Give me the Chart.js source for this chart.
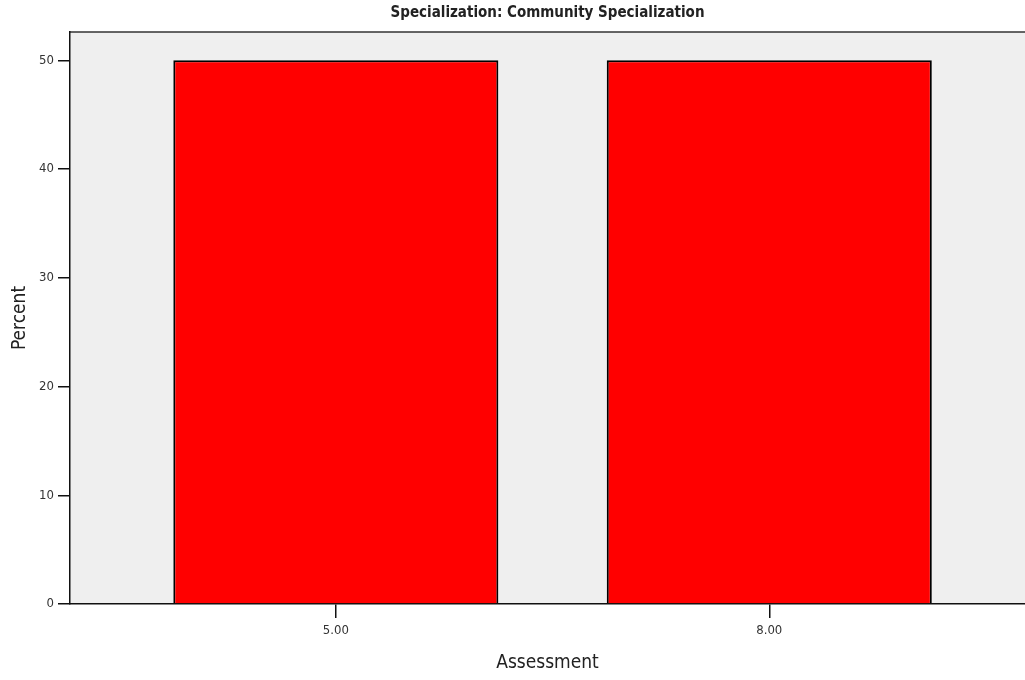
<!DOCTYPE html>
<html>
<head>
<meta charset="utf-8">
<script src="https://cdn.jsdelivr.net/npm/chart.js@4/dist/chart.umd.min.js"></script>
<style>
  body { margin: 0; background: #fff; overflow: hidden; }
  #wrap { width: 1025px; height: 680px; }
</style>
</head>
<body>
<div id="wrap"><canvas id="canvas" width="1025" height="680"></canvas></div>
<script>
const categories = [5, 8];
const tickLabels = ["5.00", "8.00"];
const percent = [50, 50];
const yTicks = [0, 10, 20, 30, 40, 50];

const FONT = "'Liberation Sans Narrow', 'DejaVu Sans Condensed', 'Arial Narrow', sans-serif";

// grey plot background + top frame line
const plotBg = {
  id: "plotBg",
  beforeDraw(chart) {
    const { ctx, chartArea: a } = chart;
    ctx.save();
    ctx.fillStyle = "#efefef";
    ctx.fillRect(a.left, a.top, a.right - a.left, a.bottom - a.top);
    ctx.strokeStyle = "#333";
    ctx.lineWidth = 1.5;
    ctx.beginPath();
    ctx.moveTo(a.left, a.top);
    ctx.lineTo(a.right, a.top);
    ctx.stroke();
    ctx.restore();
  },
};

const ctx = document.getElementById("canvas").getContext("2d");
const myChart = new Chart(ctx, {
  type: "bar",
  data: {
    datasets: [
      {
        label: "Percent",
        data: categories.map((c, i) => ({ x: c, y: percent[i] })),
        backgroundColor: "#ff0000",
        borderColor: "#000",
        borderWidth: 2,
        barPercentage: 0.75,
        categoryPercentage: 1,
      },
    ],
  },
  options: {
    responsive: false,
    animation: false,
    layout: { padding: 0 },
    plugins: {
      legend: { display: false },
      tooltip: { enabled: false },
      title: {
        display: true,
        text: "Specialization: Community Specialization",
        fullSize: false,
        color: "#222",
        font: { family: FONT, size: 15, weight: "bold" },
        padding: { top: 4, bottom: 10 },
      },
    },
    scales: {
      x: {
        type: "linear",
        offset: false,
        min: 3.16,
        max: 9.77,
        afterBuildTicks: (axis) => {
          axis.ticks = categories.map((v) => ({ value: v }));
        },
        afterFit: (scale) => {
          scale.height = 76;
        },
        ticks: {
          autoSkip: false,
          maxRotation: 0,
          padding: 5,
          color: "#333",
          font: { family: FONT, size: 13 },
          callback: (v) => tickLabels[categories.indexOf(v)],
        },
        grid: {
          display: true,
          offset: false,
          drawOnChartArea: false,
          drawTicks: true,
          tickLength: 14,
          color: "#111",
          lineWidth: 1.5,
        },
        border: { display: true, color: "#111", width: 1.5 },
        title: {
          display: true,
          text: "Assessment",
          color: "#222",
          font: { family: FONT, size: 19 },
          padding: { top: 0, bottom: 6 },
        },
      },
      y: {
        min: 0,
        max: 52.6,
        afterBuildTicks: (axis) => {
          axis.ticks = yTicks.map((v) => ({ value: v }));
        },
        afterFit: (scale) => {
          scale.width = 70;
        },
        ticks: {
          padding: 4,
          color: "#333",
          font: { family: FONT, size: 13 },
        },
        grid: {
          display: true,
          drawOnChartArea: false,
          drawTicks: true,
          tickLength: 12,
          color: "#111",
          lineWidth: 1.5,
        },
        border: { display: true, color: "#111", width: 1.5 },
        title: {
          display: true,
          text: "Percent",
          color: "#222",
          font: { family: FONT, size: 19 },
          padding: { top: 9, bottom: 0 },
        },
      },
    },
  },
  plugins: [plotBg],
});
</script>
</body>
</html>
